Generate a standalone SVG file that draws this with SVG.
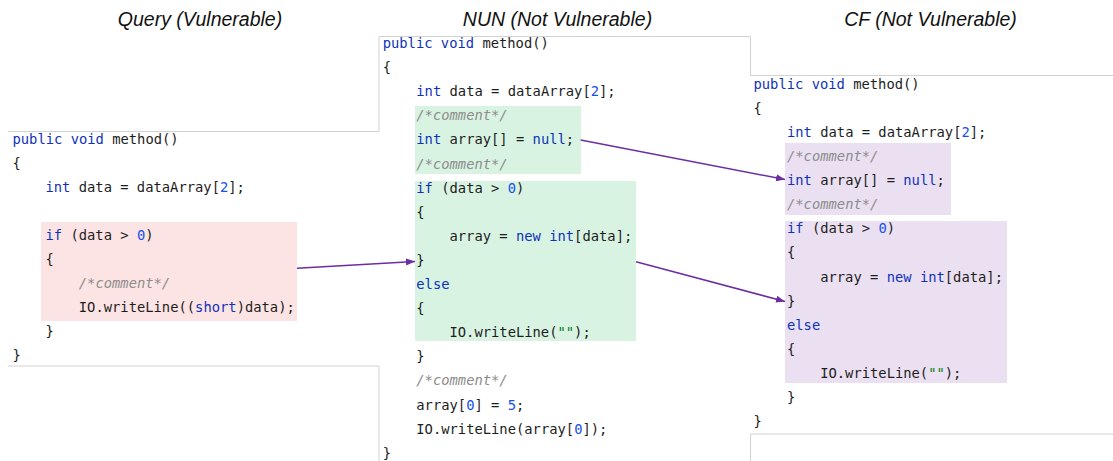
<svg xmlns="http://www.w3.org/2000/svg" width="1113" height="461" viewBox="0 0 1113 461">
<style>
.title{font-family:"Liberation Sans",Arial,sans-serif;font-style:italic;font-size:19.5px;fill:#111;text-anchor:middle}
.code{font-family:"DejaVu Sans Mono","Liberation Mono",monospace;font-size:13.8px;fill:#1d1d1d}
.k{fill:#0f33b8}
.n{fill:#1750eb}
.c{fill:#8c8c8c;font-style:italic}
.s{fill:#067d17}
.border{fill:none;stroke:#d2d2d2;stroke-width:1}
.conn{fill:none;stroke:#6c2ea3;stroke-width:1.5}
</style>
<defs>
<marker id="ah" markerUnits="userSpaceOnUse" markerWidth="10" markerHeight="8" refX="9" refY="4" orient="auto">
<path d="M0,0.5 L9,4 L0,7.5 z" fill="#6c2ea3"/>
</marker>
</defs>
<rect width="1113" height="461" fill="#ffffff"/>

<g id="titles">
<text class="title" x="200" y="26">Query (Vulnerable)</text>
<text class="title" x="557.5" y="26">NUN (Not Vulnerable)</text>
<text class="title" x="930.5" y="26">CF (Not Vulnerable)</text>
</g>

<g id="borders">
<polyline class="border" points="8,131.5 379,131.5 379,36.5 750.5,36.5 750.5,75.5 1113,75.5"/>
<polyline class="border" points="8,366 379,366 379,461"/>
<polyline class="border" points="1113,434 750.5,434 750.5,461"/>
</g>

<g id="query">
<rect x="41" y="222" width="256" height="99" fill="#fde4e4"/>
<text class="code" x="12.5" y="144"><tspan class="k">public</tspan> <tspan class="k">void</tspan> method()</text>
<text class="code" x="12.5" y="168">{</text>
<text class="code" x="45.5" y="192"><tspan class="k">int</tspan> data = dataArray[<tspan class="n">2</tspan>];</text>
<text class="code" x="45.5" y="240"><tspan class="k">if</tspan> (data &gt; <tspan class="n">0</tspan>)</text>
<text class="code" x="45.5" y="264">{</text>
<text class="code c" x="78.8" y="288">/*comment*/</text>
<text class="code" x="78.8" y="312">IO.writeLine((<tspan class="k">short</tspan>)data);</text>
<text class="code" x="45.5" y="336">}</text>
<text class="code" x="12.5" y="360">}</text>
</g>

<g id="nun">
<rect x="415" y="106" width="166" height="68" fill="#d9f3e3"/>
<rect x="415" y="181" width="221" height="160" fill="#d9f3e3"/>
<text class="code" x="382.7" y="48"><tspan class="k">public</tspan> <tspan class="k">void</tspan> method()</text>
<text class="code" x="382.7" y="72.1">{</text>
<text class="code" x="416.3" y="96.2"><tspan class="k">int</tspan> data = dataArray[<tspan class="n">2</tspan>];</text>
<text class="code c" x="416.3" y="120.3">/*comment*/</text>
<text class="code" x="416.3" y="144.4"><tspan class="k">int</tspan> array[] = <tspan class="k">null</tspan>;</text>
<text class="code c" x="416.3" y="168.5">/*comment*/</text>
<text class="code" x="416.3" y="192.6"><tspan class="k">if</tspan> (data &gt; <tspan class="n">0</tspan>)</text>
<text class="code" x="416.3" y="216.7">{</text>
<text class="code" x="449.5" y="240.8">array = <tspan class="k">new</tspan> <tspan class="k">int</tspan>[data];</text>
<text class="code" x="416.3" y="264.9">}</text>
<text class="code k" x="416.3" y="289">else</text>
<text class="code" x="416.3" y="313.1">{</text>
<text class="code" x="449.5" y="337.2">IO.writeLine(<tspan class="s">""</tspan>);</text>
<text class="code" x="416.3" y="361.3">}</text>
<text class="code c" x="416.3" y="385.4">/*comment*/</text>
<text class="code" x="416.3" y="409.5">array[<tspan class="n">0</tspan>] = <tspan class="n">5</tspan>;</text>
<text class="code" x="416.3" y="433.6">IO.writeLine(array[<tspan class="n">0</tspan>]);</text>
<text class="code" x="382.7" y="457.7">}</text>
</g>

<g id="cf">
<rect x="785" y="143" width="166" height="72" fill="#ebe0f1"/>
<rect x="785" y="221" width="222" height="162" fill="#ebe0f1"/>
<text class="code" x="753.5" y="88.7"><tspan class="k">public</tspan> <tspan class="k">void</tspan> method()</text>
<text class="code" x="753.5" y="112.8">{</text>
<text class="code" x="787" y="136.9"><tspan class="k">int</tspan> data = dataArray[<tspan class="n">2</tspan>];</text>
<text class="code c" x="787" y="161">/*comment*/</text>
<text class="code" x="787" y="185.1"><tspan class="k">int</tspan> array[] = <tspan class="k">null</tspan>;</text>
<text class="code c" x="787" y="209.2">/*comment*/</text>
<text class="code" x="787" y="233.3"><tspan class="k">if</tspan> (data &gt; <tspan class="n">0</tspan>)</text>
<text class="code" x="787" y="257.4">{</text>
<text class="code" x="820.2" y="281.5">array = <tspan class="k">new</tspan> <tspan class="k">int</tspan>[data];</text>
<text class="code" x="787" y="305.6">}</text>
<text class="code k" x="787" y="329.7">else</text>
<text class="code" x="787" y="353.8">{</text>
<text class="code" x="820.2" y="377.9">IO.writeLine(<tspan class="s">""</tspan>);</text>
<text class="code" x="787" y="402">}</text>
<text class="code" x="753.5" y="426.1">}</text>
</g>

<g id="connectors">
<line class="conn" x1="297" y1="268.3" x2="415" y2="261.5" marker-end="url(#ah)"/>
<line class="conn" x1="580.7" y1="140" x2="785" y2="179.5" marker-end="url(#ah)"/>
<line class="conn" x1="636" y1="261.7" x2="785" y2="301.5" marker-end="url(#ah)"/>
</g>
</svg>
